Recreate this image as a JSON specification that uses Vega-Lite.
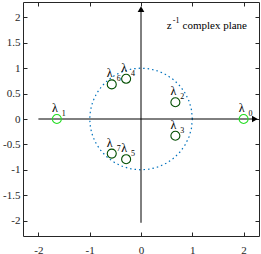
{
  "$schema": "https://vega.github.io/schema/vega-lite/v6.json",
  "width": 236,
  "height": 234,
  "autosize": "none",
  "padding": {"left": 23, "top": 2, "right": 2, "bottom": 18},
  "background": "white",
  "config": {
    "view": {"stroke": "#262626", "strokeWidth": 1},
    "axis": {"grid": false, "domain": false, "tickSize": -4, "tickColor": "#262626", "labelFont": "Liberation Serif, Times New Roman, serif", "labelFontSize": 11, "labelColor": "#262626", "title": null}
  },
  "datasets": {
    "circle": [
      {"a": 0, "x": 1, "y": 0}, {"a": 10, "x": 0.985, "y": 0.174}, {"a": 20, "x": 0.94, "y": 0.342},
      {"a": 30, "x": 0.866, "y": 0.5}, {"a": 40, "x": 0.766, "y": 0.643}, {"a": 50, "x": 0.643, "y": 0.766},
      {"a": 60, "x": 0.5, "y": 0.866}, {"a": 70, "x": 0.342, "y": 0.94}, {"a": 80, "x": 0.174, "y": 0.985},
      {"a": 90, "x": 0, "y": 1}, {"a": 100, "x": -0.174, "y": 0.985}, {"a": 110, "x": -0.342, "y": 0.94},
      {"a": 120, "x": -0.5, "y": 0.866}, {"a": 130, "x": -0.643, "y": 0.766}, {"a": 140, "x": -0.766, "y": 0.643},
      {"a": 150, "x": -0.866, "y": 0.5}, {"a": 160, "x": -0.94, "y": 0.342}, {"a": 170, "x": -0.985, "y": 0.174},
      {"a": 180, "x": -1, "y": 0}, {"a": 190, "x": -0.985, "y": -0.174}, {"a": 200, "x": -0.94, "y": -0.342},
      {"a": 210, "x": -0.866, "y": -0.5}, {"a": 220, "x": -0.766, "y": -0.643}, {"a": 230, "x": -0.643, "y": -0.766},
      {"a": 240, "x": -0.5, "y": -0.866}, {"a": 250, "x": -0.342, "y": -0.94}, {"a": 260, "x": -0.174, "y": -0.985},
      {"a": 270, "x": 0, "y": -1}, {"a": 280, "x": 0.174, "y": -0.985}, {"a": 290, "x": 0.342, "y": -0.94},
      {"a": 300, "x": 0.5, "y": -0.866}, {"a": 310, "x": 0.643, "y": -0.766}, {"a": 320, "x": 0.766, "y": -0.643},
      {"a": 330, "x": 0.866, "y": -0.5}, {"a": 340, "x": 0.94, "y": -0.342}, {"a": 350, "x": 0.985, "y": -0.174},
      {"a": 360, "x": 1, "y": 0}
    ],
    "axes": [
      {"x": -2, "x2": 2.22, "y": 0, "y2": 0},
      {"x": 0, "x2": 0, "y": -2.04, "y2": 2.16}
    ],
    "arrows": [
      {"x": 2.22, "y": 0, "dir": "right"},
      {"x": 0, "y": 2.16, "dir": "up"}
    ],
    "pts": [
      {"k": "0", "x": 2.0, "y": 0, "g": "outer"},
      {"k": "1", "x": -1.64, "y": 0, "g": "outer"},
      {"k": "2", "x": 0.67, "y": 0.33, "g": "inner"},
      {"k": "3", "x": 0.67, "y": -0.33, "g": "inner"},
      {"k": "4", "x": -0.29, "y": 0.79, "g": "inner"},
      {"k": "5", "x": -0.29, "y": -0.79, "g": "inner"},
      {"k": "6", "x": -0.57, "y": 0.68, "g": "inner"},
      {"k": "7", "x": -0.57, "y": -0.68, "g": "inner"}
    ],
    "title": [
      {"t": "z", "x": 0.5, "y": 1.76, "s": "big"},
      {"t": "-1", "x": 0.62, "y": 1.88, "s": "small"},
      {"t": "complex plane", "x": 0.81, "y": 1.76, "s": "big"}
    ]
  },
  "layer": [
    {
      "data": {"name": "circle"},
      "mark": {"type": "line", "stroke": "#0072BD", "strokeWidth": 1.2, "strokeDash": [1.5, 3]},
      "encoding": {
        "x": {"field": "x", "type": "quantitative", "scale": {"domain": [-2.3, 2.3], "nice": false, "zero": false},
              "axis": {"orient": "bottom", "values": [-2, -1, 0, 1, 2], "labelPadding": 12, "labelExpr": "'' + datum.value"}},
        "y": {"field": "y", "type": "quantitative", "scale": {"domain": [-2.3, 2.3], "nice": false, "zero": false},
              "axis": {"orient": "left", "values": [-2, -1.5, -1, -0.5, 0, 0.5, 1, 1.5, 2], "labelPadding": 7, "labelExpr": "'' + datum.value"}},
        "order": {"field": "a", "type": "quantitative"}
      }
    },
    {
      "data": {"name": "axes"},
      "mark": {"type": "rule", "color": "black", "strokeWidth": 1},
      "encoding": {
        "x": {"field": "x", "type": "quantitative", "axis": {"orient": "top", "values": [-2, -1, 0, 1, 2], "labels": false}},
        "x2": {"field": "x2"},
        "y": {"field": "y", "type": "quantitative", "axis": {"orient": "right", "values": [-2, -1.5, -1, -0.5, 0, 0.5, 1, 1.5, 2], "labels": false}},
        "y2": {"field": "y2"}
      }
    },
    {
      "data": {"name": "arrows"},
      "mark": {"type": "point", "filled": true, "color": "black", "size": 45, "opacity": 1},
      "encoding": {
        "x": {"field": "x", "type": "quantitative", "axis": null},
        "y": {"field": "y", "type": "quantitative", "axis": null},
        "shape": {"field": "dir", "type": "nominal", "scale": {"domain": ["right", "up"], "range": ["triangle-right", "triangle-up"]}, "legend": null}
      }
    },
    {
      "data": {"name": "pts"},
      "mark": {"type": "point", "shape": "circle", "filled": false, "size": 81, "strokeWidth": 1.1, "opacity": 1},
      "encoding": {
        "x": {"field": "x", "type": "quantitative", "axis": null},
        "y": {"field": "y", "type": "quantitative", "axis": null},
        "color": {"field": "g", "type": "nominal", "scale": {"domain": ["outer", "inner"], "range": ["#22dd22", "#004d00"]}, "legend": null}
      }
    },
    {
      "data": {"name": "pts"},
      "mark": {"type": "text", "text": "λ", "font": "Liberation Serif, Times New Roman, serif", "fontSize": 12, "color": "black", "baseline": "middle", "align": "center", "dx": -2, "dy": -11},
      "encoding": {
        "x": {"field": "x", "type": "quantitative", "axis": null},
        "y": {"field": "y", "type": "quantitative", "axis": null}
      }
    },
    {
      "data": {"name": "pts"},
      "mark": {"type": "text", "font": "Liberation Serif, Times New Roman, serif", "fontSize": 8, "color": "black", "baseline": "middle", "align": "center", "dx": 7, "dy": -5},
      "encoding": {
        "x": {"field": "x", "type": "quantitative", "axis": null},
        "y": {"field": "y", "type": "quantitative", "axis": null},
        "text": {"field": "k"}
      }
    },
    {
      "data": {"name": "title"},
      "transform": [{"filter": "datum.s == 'big'"}],
      "mark": {"type": "text", "font": "Liberation Serif, Times New Roman, serif", "fontSize": 11, "color": "black", "baseline": "alphabetic", "align": "left"},
      "encoding": {
        "x": {"field": "x", "type": "quantitative", "axis": null},
        "y": {"field": "y", "type": "quantitative", "axis": null},
        "text": {"field": "t"}
      }
    },
    {
      "data": {"name": "title"},
      "transform": [{"filter": "datum.s == 'small'"}],
      "mark": {"type": "text", "font": "Liberation Serif, Times New Roman, serif", "fontSize": 8, "color": "black", "baseline": "alphabetic", "align": "left"},
      "encoding": {
        "x": {"field": "x", "type": "quantitative", "axis": null},
        "y": {"field": "y", "type": "quantitative", "axis": null},
        "text": {"field": "t"}
      }
    }
  ],
  "resolve": {"axis": {"x": "independent", "y": "independent"}}
}
